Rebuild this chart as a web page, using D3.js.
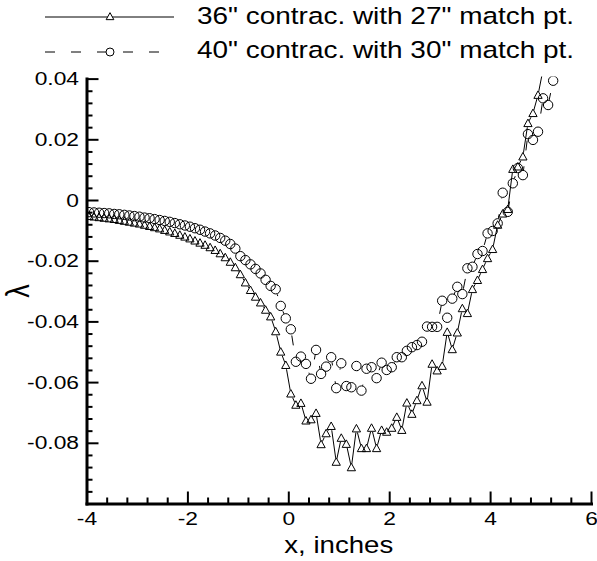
<!DOCTYPE html>
<html><head><meta charset="utf-8">
<script src="https://cdn.jsdelivr.net/npm/d3@7"></script>
<style>body{margin:0;background:#fff}svg{display:block}text{font-family:"Liberation Sans",Arial,sans-serif;fill:#000}</style>
</head><body>
<script>
// x positions (inches)
const xInches = [-3.95,-3.85,-3.75,-3.65,-3.55,-3.45,-3.35,-3.25,-3.15,-3.05,
 -2.95,-2.85,-2.75,-2.65,-2.55,-2.45,-2.35,-2.25,-2.15,-2.05,
 -1.95,-1.85,-1.75,-1.65,-1.55,-1.45,-1.35,-1.25,-1.15,-1.05,
 -0.95,-0.85,-0.75,-0.65,-0.55,-0.45,-0.35,-0.25,-0.15,-0.05,
 0.05,0.15,0.25,0.35,0.45,0.55,0.65,0.75,0.85,0.95,
 1.05,1.15,1.25,1.35,1.45,1.55,1.65,1.75,1.85,1.95,
 2.05,2.15,2.25,2.35,2.45,2.55,2.65,2.75,2.85,2.95,
 3.05,3.15,3.25,3.35,3.45,3.55,3.65,3.75,3.85,3.95,
 4.05,4.15,4.25,4.35,4.45,4.55,4.65,4.75,4.85,4.95,
 5.05,5.15,5.25];
// 36" contraction with 27" match pt. (triangles, solid)
const lambda36 = [-0.0053,-0.0055,-0.0057,-0.0059,-0.0061,-0.0063,-0.0066,-0.0069,-0.0072,-0.0075,
 -0.0078,-0.0082,-0.0086,-0.0090,-0.0094,-0.0099,-0.0104,-0.0109,-0.0115,-0.0121,
 -0.0127,-0.0134,-0.0141,-0.0148,-0.0156,-0.0165,-0.0176,-0.0189,-0.0204,-0.0222,
 -0.0245,-0.0272,-0.0297,-0.0319,-0.0338,-0.0362,-0.0384,-0.0433,-0.0500,-0.0544,
 -0.0638,-0.0675,-0.0669,-0.0727,-0.0723,-0.0702,-0.0805,-0.0769,-0.0745,-0.0863,
 -0.0784,-0.0804,-0.0881,-0.0753,-0.0818,-0.0818,-0.0751,-0.0818,-0.0758,-0.0764,
 -0.0751,-0.0715,-0.0758,-0.0668,-0.0705,-0.0660,-0.0611,-0.0665,-0.0540,-0.0562,
 -0.0547,-0.0435,-0.0492,-0.0437,-0.0357,-0.0373,-0.0294,-0.0264,-0.0228,-0.0192,
 -0.0162,-0.0082,-0.0045,-0.0030,0.0102,0.0110,0.0143,0.0253,0.0286,0.0346,
 0.0430];
// 40" contraction with 30" match pt. (circles, dashed)
const lambda40 = [-0.0040,-0.0041,-0.0042,-0.0043,-0.0044,-0.0046,-0.0047,-0.0049,-0.0051,-0.0053,
 -0.0055,-0.0058,-0.0060,-0.0063,-0.0066,-0.0069,-0.0072,-0.0076,-0.0080,-0.0084,
 -0.0088,-0.0093,-0.0098,-0.0104,-0.0110,-0.0117,-0.0125,-0.0134,-0.0145,-0.0160,
 -0.0185,-0.0198,-0.0212,-0.0227,-0.0242,-0.0263,-0.0283,-0.0294,-0.0349,-0.0390,
 -0.0426,-0.0533,-0.0516,-0.0540,-0.0589,-0.0494,-0.0573,-0.0549,-0.0518,-0.0620,
 -0.0538,-0.0613,-0.0617,-0.0547,-0.0628,-0.0556,-0.0551,-0.0587,-0.0536,-0.0560,
 -0.0551,-0.0518,-0.0518,-0.0497,-0.0485,-0.0478,-0.0467,-0.0417,-0.0418,-0.0418,
 -0.0332,-0.0388,-0.0325,-0.0286,-0.0310,-0.0225,-0.0220,-0.0178,-0.0168,-0.0110,
 -0.0102,-0.0077,0.0024,-0.0039,0.0055,0.0105,0.0082,0.0217,0.0198,0.0225,
 0.0335,0.0313,0.0393];
const seriesNames = ['36" contrac. with 27" match pt.','40" contrac. with 30" match pt.'];
const xMajorTicks = [-4,-2,0,2,4,6];
const xTickLabels = ["-4","-2","0","2","4","6"];
const yMajorTicks = [-0.08,-0.06,-0.04,-0.02,0,0.02,0.04];
const yTickLabels = ["-0.08","-0.06","-0.04","-0.02","0","0.02","0.04"];
const xTitle = "x, inches";
const yTitle = "λ";

const W=597,H=561;
const L=86.5,R=591,T=78.6,B=503.5;
const SX=1.2;
const x=d3.scaleLinear().domain([-4,6]).range([L,R]);
const y=d3.scaleLinear().domain([-0.1,0.04]).range([B,T]);

const svg=d3.select("body").append("svg").attr("width",W).attr("height",H);
const defs=svg.append("defs");
defs.append("clipPath").attr("id","plotclip").append("rect")
  .attr("x",L).attr("y",T-2).attr("width",R-L+10).attr("height",B-T+2);

const triPath=(s)=>`M0,${-s*0.55}L${s*0.55},${s*0.45}L${-s*0.55},${s*0.45}Z`;
const TRI=7.5, RC=4.7;

const s1=xInches.slice(0,lambda36.length).map((v,i)=>({x:v,y:lambda36[i]}));
const s2=xInches.map((v,i)=>({x:v,y:lambda40[i]}));

// masks to keep lines out of markers
function makeMask(id,data,shape){
  const m=defs.append("mask").attr("id",id).attr("maskUnits","userSpaceOnUse")
    .attr("x",0).attr("y",0).attr("width",W).attr("height",H);
  m.append("rect").attr("width",W).attr("height",H).attr("fill","#fff");
  if(shape==="tri"){
    m.selectAll("path").data(data).join("path")
      .attr("d",triPath(TRI+1.5)).attr("transform",d=>`translate(${x(d.x)},${y(d.y)})`).attr("fill","#000");
  } else {
    m.selectAll("circle").data(data).join("circle")
      .attr("cx",d=>x(d.x)).attr("cy",d=>y(d.y)).attr("r",RC+0.5).attr("fill","#000");
  }
}
makeMask("m1",s1,"tri");
makeMask("m2",s2,"circ");

const line=d3.line().x(d=>x(d.x)).y(d=>y(d.y));
const plot=svg.append("g").attr("clip-path","url(#plotclip)");
plot.append("g").attr("mask","url(#m1)").append("path").datum(s1).attr("d",line)
  .attr("fill","none").attr("stroke","#000").attr("stroke-width",1);
plot.append("g").attr("mask","url(#m2)").append("path").datum(s2).attr("d",line)
  .attr("fill","none").attr("stroke","#000").attr("stroke-width",1).attr("stroke-dasharray","10,16");
plot.selectAll("path.tri").data(s1).join("path").attr("class","tri")
  .attr("d",triPath(TRI)).attr("transform",d=>`translate(${x(d.x)},${y(d.y)})`)
  .attr("fill","none").attr("stroke","#000").attr("stroke-width",1);
plot.selectAll("circle.c").data(s2).join("circle").attr("class","c")
  .attr("cx",d=>x(d.x)).attr("cy",d=>y(d.y)).attr("r",RC)
  .attr("fill","none").attr("stroke","#000").attr("stroke-width",1);

// axes
const xMinor=d3.range(-4,6.001,0.4).filter(v=>Math.abs(v/2-Math.round(v/2))>1e-6);
const yMinor=d3.range(-0.1,0.0401,0.004).filter(v=>Math.abs(v/0.02-Math.round(v/0.02))>1e-6);
function styleAxis(g){
  g.select(".domain").attr("stroke","#000").attr("stroke-width",3).attr("stroke-linecap","square");
  g.selectAll(".tick line").attr("stroke","#000").attr("stroke-width",2);
}
const gxMinor=svg.append("g").attr("transform",`translate(0,${B})`)
  .call(d3.axisBottom(x).tickValues(xMinor).tickSize(-6).tickSizeOuter(0).tickFormat(""));
gxMinor.select(".domain").remove();
gxMinor.selectAll(".tick line").attr("stroke","#000").attr("stroke-width",2);
const gyMinor=svg.append("g").attr("transform",`translate(${L},0)`)
  .call(d3.axisLeft(y).tickValues(yMinor).tickSize(-6).tickSizeOuter(0).tickFormat(""));
gyMinor.select(".domain").remove();
gyMinor.selectAll(".tick line").attr("stroke","#000").attr("stroke-width",2);

const gx=svg.append("g").attr("transform",`translate(0,${B})`)
  .call(d3.axisBottom(x).tickValues(xMajorTicks).tickSize(-12).tickSizeOuter(0).tickPadding(8)
  .tickFormat((d,i)=>xTickLabels[i]));
styleAxis(gx);
gx.selectAll(".tick text").attr("font-size",19).attr("font-family",'"Liberation Sans",Arial,sans-serif')
  .attr("fill","#000").attr("x",0).attr("transform",`scale(${SX},1)`);
const gy=svg.append("g").attr("transform",`translate(${L},0)`)
  .call(d3.axisLeft(y).tickValues([-0.1].concat(yMajorTicks)).tickSize(-12).tickSizeOuter(0).tickPadding(8)
  .tickFormat(d=>{const i=yMajorTicks.indexOf(d);return i<0?"":yTickLabels[i];}));
styleAxis(gy);
gy.selectAll(".tick text").attr("font-size",19).attr("font-family",'"Liberation Sans",Arial,sans-serif')
  .attr("fill","#000").attr("x",0).attr("transform",`translate(-7.5,0) scale(${SX},1)`);

// titles
svg.append("text").attr("transform",`translate(${(L+R)/2},553) scale(${SX},1)`)
  .attr("text-anchor","middle").attr("font-size",23).text(xTitle);
svg.append("text").attr("transform",`translate(29,291) scale(${SX},1) rotate(-90)`)
  .attr("text-anchor","middle").attr("font-size",27).text(yTitle);

// legend
const leg=svg.append("g");
const lx0=45,lx1=174,lxm=110;
const rows=[{yl:17,yt:23.5},{yl:52,yt:57.5}];
leg.append("line").attr("x1",lx0).attr("x2",lx1).attr("y1",rows[0].yl).attr("y2",rows[0].yl)
  .attr("stroke","#000").attr("stroke-width",1);
leg.append("path").attr("d",triPath(7)).attr("transform",`translate(${lxm},${rows[0].yl-0.5})`)
  .attr("fill","#fff").attr("stroke","#000");
leg.append("line").attr("x1",lx0).attr("x2",lx1).attr("y1",rows[1].yl).attr("y2",rows[1].yl)
  .attr("stroke","#000").attr("stroke-width",1).attr("stroke-dasharray","10,16");
leg.append("circle").attr("cx",lxm).attr("cy",rows[1].yl).attr("r",4).attr("fill","#fff").attr("stroke","#000");
seriesNames.forEach((n,i)=>{
  leg.append("text").attr("transform",`translate(197,${rows[i].yt}) scale(${SX},1)`)
    .attr("font-size",23.3).text(n);
});
</script>
</body></html>
